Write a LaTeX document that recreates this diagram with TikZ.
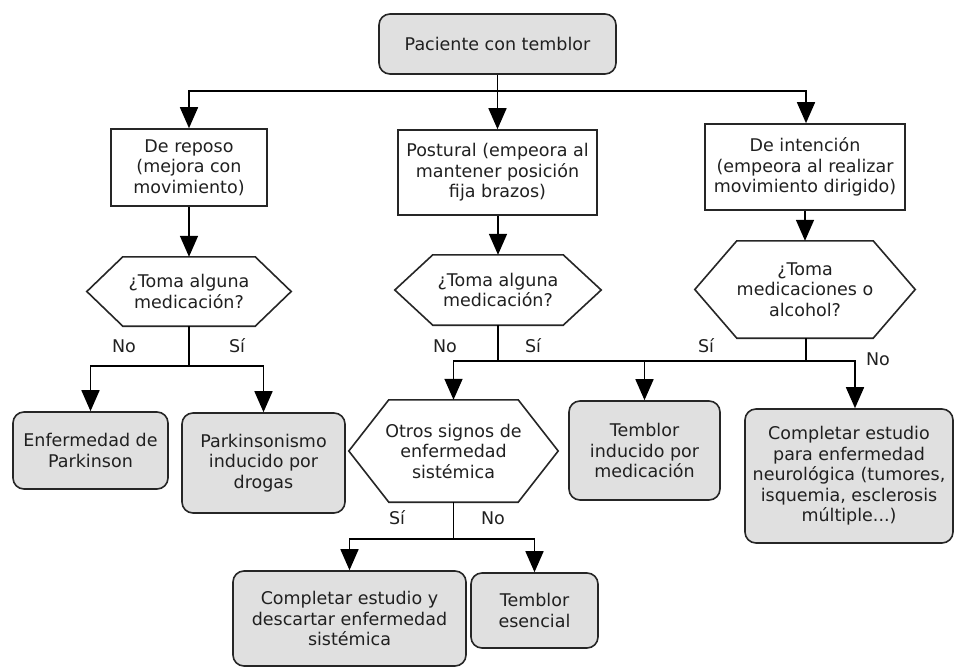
\documentclass[tikz,border=0pt]{standalone}
\usepackage{fontspec}
\setmainfont{DejaVu Sans}
\usetikzlibrary{arrows.meta}
\definecolor{boxgray}{HTML}{E0E0E0}
\definecolor{txt}{HTML}{202020}
\tikzset{
  base/.style={font=\fontsize{17.5}{20.5}\selectfont, text=txt, align=center, inner sep=0pt},
  term/.style={base, draw=black!85, line width=1.6pt, fill=boxgray, rounded corners=11pt},
  proc/.style={base, draw=black!85, line width=1.6pt, fill=white},
  hexnode/.style={base},
  hexline/.style={draw=black!85, line width=1.6pt},
  conn/.style={line width=1.6pt, black},
  arr/.style={conn, -{Triangle[length=21pt,width=18pt]}},
  lbl/.style={font=\fontsize{17.5}{20.5}\selectfont, text=txt, inner sep=0pt},
}
\newcommand{\hexa}[2]{\draw[hexline] (#1.west) -- ([xshift=#2pt]#1.north west) -- ([xshift=-#2pt]#1.north east) -- (#1.east) -- ([xshift=-#2pt]#1.south east) -- ([xshift=#2pt]#1.south west) -- cycle;}
\begin{document}
\begin{tikzpicture}[x=1pt,y=-1pt]
\useasboundingbox (0,0) rectangle (956,669);
\fill[white] (0,0) rectangle (956,669);
% top
\node[term, minimum width=237pt, minimum height=60pt] (P) at (497.5,44) {Paciente con temblor};
% second row
\node[proc, minimum width=156pt, minimum height=77pt] (B1) at (189,167.5) {De reposo\\(mejora con\\movimiento)};
\node[proc, minimum width=199pt, minimum height=85pt] (B2) at (497.5,172.5) {Postural (empeora al\\mantener posición\\fija brazos)};
\node[proc, minimum width=200pt, minimum height=86pt] (B3) at (805,167) {De intención\\(empeora al realizar\\movimiento dirigido)};
% hexagons
\node[hexnode, minimum width=204pt, minimum height=69pt] (H1) at (189,291.5) {¿Toma alguna\\medicación?};
\hexa{H1}{36}
\node[hexnode, minimum width=206pt, minimum height=70pt] (H2) at (498,290) {¿Toma alguna\\medicación?};
\hexa{H2}{38}
\node[hexnode, minimum width=220pt, minimum height=97pt] (H3) at (805,289.5) {¿Toma\\medicaciones o\\alcohol?};
\hexa{H3}{42}
% third row
\node[term, minimum width=155pt, minimum height=77pt] (L1) at (90.5,450.5) {Enfermedad de\\Parkinson};
\node[term, minimum width=163pt, minimum height=100pt] (L2) at (263.5,463) {Parkinsonismo\\inducido por\\drogas};
\node[hexnode, minimum width=209pt, minimum height=102pt] (O) at (453.5,451) {Otros signos de\\enfermedad\\sistémica};
\hexa{O}{40}
\node[term, minimum width=151pt, minimum height=99pt] (TM) at (644.5,450.5) {Temblor\\inducido por\\medicación};
\node[term, minimum width=208pt, minimum height=134pt] (CN) at (849,476) {Completar estudio\\para enfermedad\\neurológica (tumores,\\isquemia, esclerosis\\múltiple...)};
% bottom row
\node[term, minimum width=233pt, minimum height=95pt] (CS) at (349.5,618.5) {Completar estudio y\\descartar enfermedad\\sistémica};
\node[term, minimum width=127pt, minimum height=75pt] (TE) at (534.5,610.5) {Temblor\\esencial};
% junctions
\coordinate (j0) at (497.5,91);
\coordinate (j1) at (189,366);
\coordinate (j2) at (498,361);
\coordinate (j3) at (806,361);
\coordinate (j4) at (453.5,539);
% connectors
\draw[conn] (P) -- (j0);
\draw[arr] (j0) -| (B1);
\draw[arr] (j0) -- (B2);
\draw[arr] (j0) -| ([xshift=1pt]B3.north);
\draw[arr] (B1) -- (H1);
\draw[arr] (B2.south -| H2.north) -- (H2);
\draw[arr] (B3) -- (H3);
\draw[conn] (H1) -- (j1);
\draw[arr] (j1) -| (L1);
\draw[arr] (j1) -| (L2);
\draw[conn] (H2) -- (j2);
\draw[conn] ([xshift=1pt]H3.south) -- (j3);
\draw[conn] (j2) -- (j3);
\draw[arr] (j2) -| (O);
\draw[arr] (j3) -| (TM);
\draw[arr] (j3) -| ([xshift=6pt]CN.north);
\draw[conn] (O) -- (j4);
\draw[arr] (j4) -| (CS);
\draw[arr] (j4) -| (TE);
% labels
\node[lbl] (n1) at (124,346) {No};
\node[lbl] (s1) at (237,346) {Sí};
\node[lbl] (n2) at (445,346) {No};
\node[lbl] (s2) at (533,346) {Sí};
\node[lbl] (s3) at (706,346) {Sí};
\node[lbl] (n3) at (878,359) {No};
\node[lbl] (s4) at (397,518) {Sí};
\node[lbl] (n4) at (493,518) {No};
\end{tikzpicture}
\end{document}
